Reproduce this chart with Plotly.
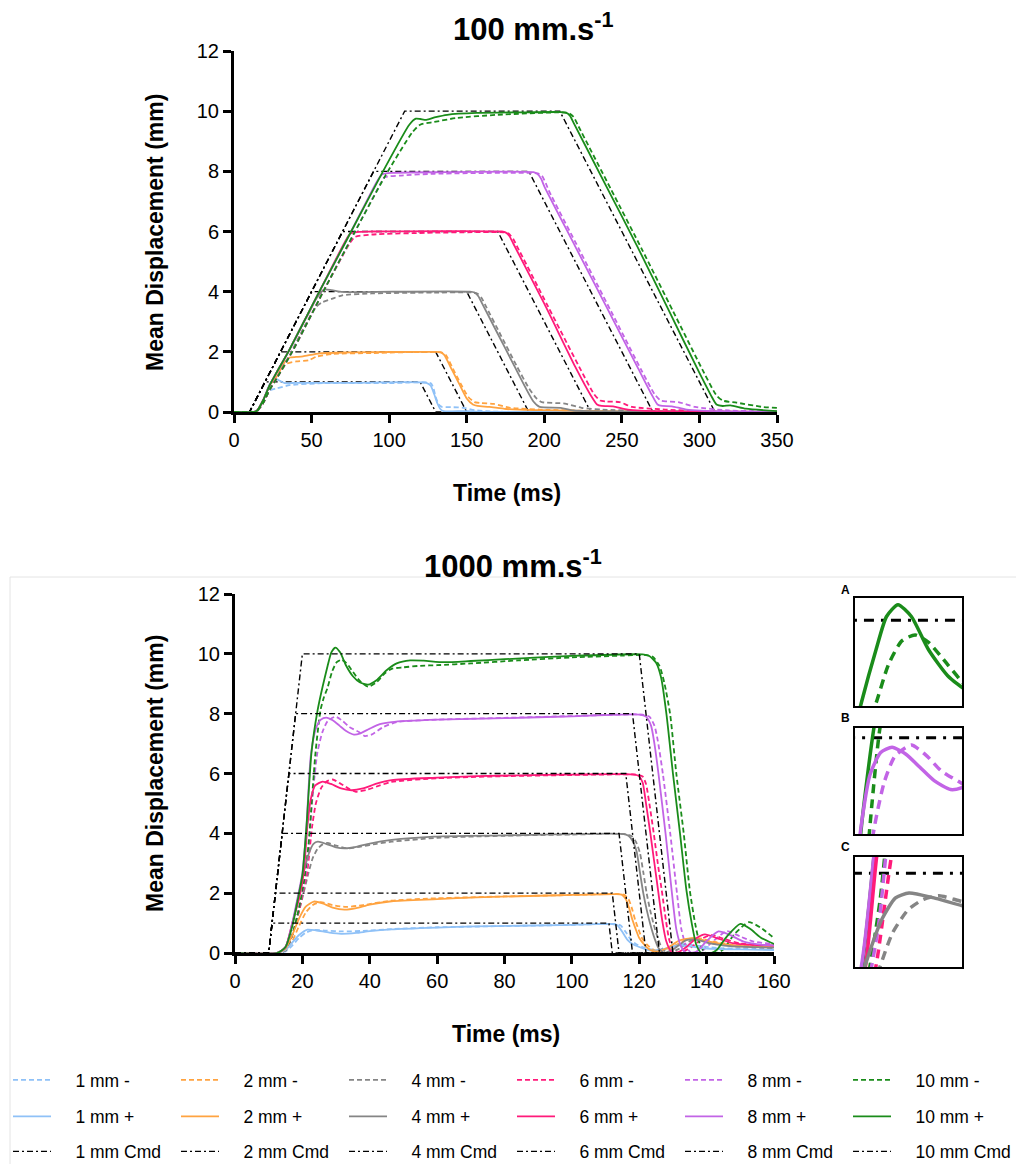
import plotly.graph_objects as go

# ---------------- DATA ----------------
LABELS = ["1 mm", "2 mm", "4 mm", "6 mm", "8 mm", "10 mm"]
COLORS = ["#8fc1f7", "#ffa340", "#858585", "#ff1a7a", "#c264e6", "#1a8c1a"]

# ---- 100 mm/s : command ----
top_cmd1_t = [0, 10, 20, 120, 130, 350]
top_cmd2_t = [0, 10, 30, 130, 150, 350]
top_cmd4_t = [0, 10, 50, 150, 190, 350]
top_cmd6_t = [0, 10, 70, 170, 230, 350]
top_cmd8_t = [0, 10, 90, 190, 270, 350]
top_cmd10_t = [0, 10, 110, 210, 310, 350]
top_cmd1_y = [0, 0, 1, 1, 0, 0]
top_cmd2_y = [0, 0, 2, 2, 0, 0]
top_cmd4_y = [0, 0, 4, 4, 0, 0]
top_cmd6_y = [0, 0, 6, 6, 0, 0]
top_cmd8_y = [0, 0, 8, 8, 0, 0]
top_cmd10_y = [0, 0, 10, 10, 0, 0]

# ---- 100 mm/s : measured (+ solid, - dashed) ----
top_p1_t = [0, 13, 15, 18.8, 23.1, 26.3, 28.4, 32.7, 40, 75, 124, 126.7, 129, 131, 133, 135, 140, 150, 160, 350]
top_p1_y = [0, 0, 0.05, 0.39, 0.94, 1.1, 1.07, 0.96, 0.97, 0.97, 0.97, 0.88, 0.6, 0.3, 0.1, 0.03, 0.02, 0.03, 0, 0]
top_m1_t = [0, 13, 15, 18.8, 23.1, 27.3, 35.9, 57.4, 100, 126.7, 128.5, 130, 132, 134, 140, 148, 155, 165, 180, 350]
top_m1_y = [0, 0, 0.04, 0.3, 0.72, 0.78, 0.89, 0.96, 0.96, 0.96, 0.8, 0.5, 0.25, 0.17, 0.16, 0.14, 0.06, 0.02, 0, 0]

top_p2_t = [0, 13, 15, 18.8, 23.1, 27.3, 32.7, 35.9, 40, 44.5, 55.3, 75, 129, 133, 135.5, 140, 145, 150, 154, 157, 164.6, 175.4, 197, 250, 350]
top_p2_y = [0, 0, 0.05, 0.39, 0.9, 1.16, 1.66, 1.81, 1.83, 1.85, 1.95, 1.98, 2.0, 1.99, 1.9, 1.45, 0.95, 0.45, 0.25, 0.2, 0.17, 0.1, 0.06, 0.02, 0]
top_m2_t = [0, 13, 15, 18.8, 23.1, 27.3, 30, 33.8, 40.2, 48.2, 53.1, 63.9, 88.8, 133.5, 136.5, 141, 146, 151, 155, 159, 167.3, 178, 197, 250, 350]
top_m2_y = [0, 0, 0.04, 0.3, 0.75, 1.1, 1.35, 1.6, 1.68, 1.72, 1.84, 1.93, 1.96, 1.98, 1.9, 1.45, 0.95, 0.5, 0.33, 0.3, 0.27, 0.14, 0.08, 0.02, 0]

top_p4_t = [0, 13, 15, 18.8, 23.1, 27.3, 35, 45, 48.8, 53.1, 58, 63, 70, 102, 152, 155, 157.5, 160, 170, 180, 188, 193, 197, 210.6, 218.7, 237.7, 350]
top_p4_y = [0, 0, 0.05, 0.39, 0.9, 1.3, 2.0, 3.0, 3.35, 3.77, 4.07, 4.05, 3.99, 4.0, 4.0, 3.97, 3.85, 3.6, 2.6, 1.6, 0.8, 0.35, 0.17, 0.14, 0.05, 0.02, 0]
top_m4_t = [0, 13, 15, 18.8, 23.1, 27.3, 36, 46, 53, 57, 63, 69.8, 88.8, 129, 154, 157, 159.5, 162, 172, 182, 190, 195, 198.4, 213.3, 224, 237.7, 264.7, 350]
top_m4_y = [0, 0, 0.04, 0.3, 0.75, 1.1, 1.9, 2.9, 3.5, 3.65, 3.76, 3.88, 3.94, 3.97, 3.97, 3.93, 3.8, 3.55, 2.55, 1.55, 0.8, 0.45, 0.33, 0.28, 0.14, 0.08, 0.03, 0]

top_p6_t = [0, 13, 15, 18.8, 23.1, 27.3, 35, 55, 72, 75, 80, 88.8, 172.7, 175, 177.5, 180, 200, 220, 230, 234, 237, 244.4, 253.9, 278, 350]
top_p6_y = [0, 0, 0.05, 0.39, 0.9, 1.3, 2.0, 4.0, 5.7, 5.93, 5.99, 6.0, 6.0, 5.97, 5.85, 5.6, 3.6, 1.5, 0.55, 0.25, 0.2, 0.19, 0.08, 0.02, 0]
top_m6_t = [0, 13, 15, 18.8, 23.1, 27.3, 37.5, 57.5, 74.5, 78, 88.8, 129, 174, 177, 180, 182.5, 202.5, 222.5, 232, 236, 240, 248.5, 256.6, 278, 300, 350]
top_m6_y = [0, 0, 0.04, 0.3, 0.75, 1.1, 2.0, 4.0, 5.6, 5.82, 5.9, 5.96, 5.97, 5.93, 5.75, 5.5, 3.5, 1.5, 0.6, 0.38, 0.35, 0.33, 0.17, 0.08, 0.03, 0]

top_p8_t = [0, 13, 15, 18.8, 23.1, 27.3, 35, 55, 75, 92, 95.6, 102.3, 129, 193, 195.5, 198, 200, 220, 240, 260, 269, 273, 276, 282.3, 291.8, 319, 350]
top_p8_y = [0, 0, 0.05, 0.39, 0.9, 1.3, 2.0, 4.0, 5.95, 7.65, 7.9, 7.95, 7.97, 7.97, 7.92, 7.75, 7.5, 5.5, 3.5, 1.5, 0.6, 0.25, 0.2, 0.19, 0.08, 0.02, 0.01]
top_m8_t = [0, 13, 15, 18.8, 23.1, 27.3, 37.5, 57.5, 77.5, 94, 97, 107.7, 129, 183.5, 195.7, 198.5, 201, 203, 223, 243, 263, 271, 275, 279, 286.4, 297.2, 319, 350]
top_m8_y = [0, 0, 0.04, 0.3, 0.75, 1.1, 2.0, 4.0, 5.95, 7.55, 7.8, 7.86, 7.92, 7.95, 7.93, 7.85, 7.6, 7.35, 5.35, 3.35, 1.35, 0.6, 0.38, 0.35, 0.33, 0.17, 0.05, 0.02]

top_p10_t = [0, 13, 15, 18.8, 23.1, 27.3, 35, 55, 75, 95, 113, 117.2, 120, 124, 130, 137.5, 156.5, 183.5, 210.6, 214, 216.5, 219, 240, 260, 280, 300, 308, 311, 315, 320, 330, 350]
top_p10_y = [0, 0, 0.05, 0.39, 0.9, 1.3, 2.0, 4.0, 5.95, 7.9, 9.55, 9.75, 9.74, 9.71, 9.8, 9.88, 9.94, 9.96, 9.97, 9.95, 9.85, 9.6, 7.5, 5.5, 3.4, 1.3, 0.5, 0.25, 0.2, 0.22, 0.11, 0.03]
top_m10_t = [0, 13, 15, 18.8, 23.1, 27.3, 37.5, 57.5, 77.5, 97.5, 115, 120, 129, 143, 170, 210.6, 216, 219, 222, 243, 263, 283, 303, 311, 315, 324, 340.5, 350]
top_m10_y = [0, 0, 0.04, 0.3, 0.75, 1.1, 2.0, 4.0, 5.95, 7.85, 9.3, 9.55, 9.64, 9.77, 9.88, 9.96, 9.93, 9.8, 9.5, 7.4, 5.4, 3.35, 1.3, 0.55, 0.38, 0.31, 0.17, 0.14]

# ---- 1000 mm/s : command ----
bot_cmd1_t = [0, 10, 11, 111, 112, 160]
bot_cmd2_t = [0, 10, 12, 112, 114, 160]
bot_cmd4_t = [0, 10, 14, 114, 118, 160]
bot_cmd6_t = [0, 10, 16, 116, 122, 160]
bot_cmd8_t = [0, 10, 18, 118, 126, 160]
bot_cmd10_t = [0, 10, 20, 120, 130, 160]

# ---- 1000 mm/s : measured ----
bot_p1_t = [0, 12.5, 15, 17, 19, 21.5, 24, 28, 31.5, 36, 40, 46.5, 60, 71.5, 96.5, 112, 113.5, 115, 116.5, 118, 120, 122, 124, 127, 131, 135, 140, 150, 160]
bot_p1_y = [0, 0, 0.1, 0.35, 0.6, 0.78, 0.76, 0.68, 0.64, 0.67, 0.73, 0.79, 0.85, 0.89, 0.93, 0.97, 0.93, 0.7, 0.44, 0.3, 0.2, 0.12, 0.08, 0.12, 0.25, 0.22, 0.15, 0.12, 0.1]
bot_m1_t = [0, 12.5, 15, 17, 19, 21, 23.5, 27, 32, 38, 46.5, 60, 80, 100, 113, 114.5, 116, 117.5, 119, 121, 123, 125, 128, 133, 137, 143, 150, 160]
bot_m1_y = [0, 0, 0.05, 0.25, 0.5, 0.68, 0.77, 0.75, 0.72, 0.74, 0.8, 0.86, 0.9, 0.94, 0.97, 0.92, 0.7, 0.45, 0.3, 0.2, 0.13, 0.1, 0.15, 0.3, 0.25, 0.17, 0.14, 0.13]

bot_p2_t = [0, 12.5, 15, 17, 19, 21, 23.4, 26, 29, 32.5, 36, 40, 46.5, 60, 71.5, 96.5, 113, 114.8, 116, 117, 118, 119, 120, 121.5, 123, 125, 128, 132, 136, 140, 146, 152, 160]
bot_p2_y = [0, 0, 0.15, 0.6, 1.15, 1.55, 1.72, 1.66, 1.52, 1.45, 1.5, 1.62, 1.73, 1.8, 1.86, 1.93, 1.97, 1.95, 1.8, 1.5, 1.1, 0.78, 0.5, 0.28, 0.12, 0.05, 0.15, 0.42, 0.5, 0.4, 0.28, 0.22, 0.2]
bot_m2_t = [0, 12.5, 15, 17, 19, 21, 23, 25.5, 29, 33, 38, 46.5, 60, 80, 100, 114, 115.5, 116.8, 117.8, 118.8, 119.8, 120.8, 122.3, 124, 126, 129, 134, 137.5, 142, 148, 160]
bot_m2_y = [0, 0, 0.08, 0.4, 0.9, 1.35, 1.6, 1.7, 1.6, 1.54, 1.6, 1.75, 1.83, 1.89, 1.94, 1.97, 1.95, 1.8, 1.5, 1.1, 0.78, 0.5, 0.28, 0.12, 0.06, 0.15, 0.45, 0.5, 0.38, 0.27, 0.21]

bot_p4_t = [0, 12.5, 15, 17, 19, 20.5, 22, 23.3, 24.6, 27, 30, 32.75, 36, 40, 46.5, 59, 84, 115, 116.8, 118, 119.2, 120.2, 121.2, 122.2, 123.3, 124.5, 125.8, 127.5, 130, 134, 137, 141, 147, 160]
bot_p4_y = [0, 0, 0.2, 0.95, 2.0, 2.75, 3.35, 3.65, 3.72, 3.65, 3.53, 3.5, 3.55, 3.66, 3.78, 3.89, 3.94, 3.98, 3.92, 3.75, 3.4, 2.7, 2.0, 1.45, 0.95, 0.5, 0.15, 0.0, 0.12, 0.43, 0.45, 0.32, 0.23, 0.18]
bot_m4_t = [0, 12.5, 15, 17, 19, 21, 21.8, 23, 24.5, 26, 27.5, 29.7, 33.4, 37, 42, 46.5, 60, 80, 100, 116, 117.8, 119, 120.2, 121.2, 122.2, 123.2, 124.3, 125.5, 126.8, 128.5, 131.5, 135.5, 138, 142, 148, 160]
bot_m4_y = [0, 0, 0.1, 0.6, 1.4, 2.3, 2.67, 3.15, 3.48, 3.63, 3.68, 3.6, 3.5, 3.55, 3.65, 3.72, 3.85, 3.92, 3.96, 3.97, 3.9, 3.72, 3.35, 2.7, 2.0, 1.45, 0.95, 0.5, 0.15, 0.0, 0.12, 0.42, 0.44, 0.32, 0.23, 0.17]

bot_p6_t = [0, 12.5, 15, 17, 19, 20.4, 21.5, 22.5, 23.8, 26, 28.5, 31.5, 34.6, 38, 42, 46.5, 60, 71.5, 96.5, 118, 119.8, 121, 122, 123.3, 124.5, 125.7, 126.8, 128, 129.5, 131, 134, 137, 139.5, 143, 148, 154, 160]
bot_p6_y = [0, 0, 0.2, 1.0, 1.8, 2.67, 4.25, 5.15, 5.6, 5.73, 5.65, 5.5, 5.44, 5.5, 5.66, 5.78, 5.86, 5.91, 5.96, 5.97, 5.92, 5.7, 5.0, 4.0, 3.0, 2.0, 1.1, 0.4, 0.05, 0.0, 0.2, 0.5, 0.62, 0.5, 0.32, 0.27, 0.25]
bot_m6_t = [0, 12.5, 15, 17, 19, 20.5, 21.4, 22.9, 24, 25.5, 27, 29, 31.5, 34, 35.9, 39, 43, 46.5, 60, 80, 100, 119, 121, 122, 123, 124.3, 125.5, 126.8, 127.9, 129, 130.5, 132, 135.5, 139, 141.5, 145, 150, 160]
bot_m6_y = [0, 0, 0.1, 0.6, 1.4, 2.2, 2.67, 4.23, 5.0, 5.5, 5.72, 5.8, 5.65, 5.48, 5.39, 5.45, 5.6, 5.72, 5.84, 5.91, 5.95, 5.96, 5.9, 5.65, 5.0, 4.0, 3.0, 2.0, 1.1, 0.4, 0.05, 0.0, 0.2, 0.5, 0.6, 0.48, 0.32, 0.24]

bot_p8_t = [0, 12.5, 15, 17, 18.5, 20, 21.2, 22.5, 24, 25.5, 27.1, 29, 31, 33, 35.3, 37, 40, 43, 46.5, 60, 80, 100, 120, 122, 123.5, 124.5, 125.7, 127.8, 129.7, 131, 132.5, 134, 137, 140, 143.5, 147, 151, 156, 160]
bot_p8_y = [0, 0, 0.2, 1.0, 1.8, 2.67, 4.23, 6.6, 7.5, 7.8, 7.87, 7.78, 7.6, 7.42, 7.3, 7.33, 7.5, 7.65, 7.72, 7.8, 7.85, 7.91, 7.97, 7.9, 7.6, 7.0, 6.0, 4.0, 2.0, 0.8, 0.2, 0.0, 0.05, 0.4, 0.72, 0.6, 0.38, 0.28, 0.25]
bot_m8_t = [0, 12.5, 15, 17, 19, 20.5, 21.7, 23, 24.45, 26, 27.5, 29.8, 32, 34, 36.9, 38.5, 40.5, 44, 48, 60, 80, 100, 121, 123, 124.5, 125.5, 127, 129.2, 131.2, 132.5, 134, 135.5, 138, 142, 146, 150, 154, 160]
bot_m8_y = [0, 0, 0.1, 0.6, 1.5, 2.3, 3.3, 5.2, 6.7, 7.4, 7.75, 7.9, 7.75, 7.55, 7.38, 7.25, 7.3, 7.55, 7.72, 7.8, 7.86, 7.92, 7.97, 7.9, 7.6, 7.1, 6.0, 4.0, 2.0, 0.8, 0.2, 0.0, 0.02, 0.4, 0.73, 0.55, 0.38, 0.3]

bot_p10_t = [0, 12.5, 15, 17, 18.5, 20, 21.2, 22.7, 24.5, 26, 27.5, 28.6, 29.8, 31.2, 33, 35, 37, 39.5, 42, 45, 48, 52, 56, 62, 70, 80, 100, 121, 123, 125, 126.5, 128.1, 130, 132.1, 134, 135.6, 137, 138.5, 141, 143, 146, 150, 153, 156, 160]
bot_p10_y = [0, 0, 0.2, 0.9, 1.7, 2.6, 4.2, 6.7, 8.1, 8.9, 9.6, 10.05, 10.21, 10.05, 9.6, 9.25, 9.05, 8.97, 9.12, 9.45, 9.68, 9.78, 9.77, 9.72, 9.76, 9.82, 9.93, 9.98, 9.93, 9.7, 9.2, 7.96, 6.0, 4.0, 2.1, 0.98, 0.25, 0.0, -0.02, 0.1, 0.55, 0.97, 0.8, 0.52, 0.3]
bot_m10_t = [0, 12.5, 15, 17, 19, 20.5, 21.8, 23.9, 25.4, 26.4, 27.4, 28.8, 30.2, 31.6, 33, 35, 37, 39.5, 42, 44.5, 46.5, 50, 55, 60, 70, 84, 100, 115, 122, 124, 126, 127.5, 129.2, 131, 133.2, 135, 136.6, 138, 139.5, 143, 145, 148, 152.5, 156, 160]
bot_m10_y = [0, 0, 0.1, 0.6, 1.5, 2.4, 3.6, 6.7, 8.13, 8.55, 8.84, 9.4, 9.72, 9.8, 9.7, 9.4, 9.1, 8.9, 9.05, 9.35, 9.5, 9.55, 9.6, 9.62, 9.68, 9.78, 9.88, 9.94, 9.96, 9.9, 9.6, 9.0, 7.96, 6.0, 4.0, 2.1, 0.98, 0.3, 0.02, 0.0, 0.12, 0.6, 1.03, 0.85, 0.5]

# inset windows (time ms, displacement mm)
INSET_A_X = [25.3, 36.5]
INSET_A_Y = [8.84, 10.30]
INSET_B_X = [21.9, 36.9]
INSET_B_Y = [6.7, 8.13]
INSET_C_X = [19.4, 29.7]
INSET_C_Y = [2.67, 4.23]

# ---------------- FIGURE ----------------
# the page adds an 8 px body margin, so the figure is 8 px smaller and all
# positions below (screen pixels of the reference) are shifted by it
OFF = 8
W, H = 1024 - OFF, 1164 - OFF
SANS = "Liberation Sans, Arial, sans-serif"
DASH = "5px,3px"
CMD_DASH = "6px,3px,2px,3px"
PAD = "\u00a0\u00a0\u00a0\u00a0"


def px_x(p):
    return (p - OFF) / W


def px_y(p):
    return (H - (p - OFF)) / H


top_cmd = [(top_cmd1_t, top_cmd1_y), (top_cmd2_t, top_cmd2_y), (top_cmd4_t, top_cmd4_y),
           (top_cmd6_t, top_cmd6_y), (top_cmd8_t, top_cmd8_y), (top_cmd10_t, top_cmd10_y)]
top_pos = [(top_p1_t, top_p1_y), (top_p2_t, top_p2_y), (top_p4_t, top_p4_y),
           (top_p6_t, top_p6_y), (top_p8_t, top_p8_y), (top_p10_t, top_p10_y)]
top_neg = [(top_m1_t, top_m1_y), (top_m2_t, top_m2_y), (top_m4_t, top_m4_y),
           (top_m6_t, top_m6_y), (top_m8_t, top_m8_y), (top_m10_t, top_m10_y)]
bot_cmd = [(bot_cmd1_t, top_cmd1_y), (bot_cmd2_t, top_cmd2_y), (bot_cmd4_t, top_cmd4_y),
           (bot_cmd6_t, top_cmd6_y), (bot_cmd8_t, top_cmd8_y), (bot_cmd10_t, top_cmd10_y)]
bot_pos = [(bot_p1_t, bot_p1_y), (bot_p2_t, bot_p2_y), (bot_p4_t, bot_p4_y),
           (bot_p6_t, bot_p6_y), (bot_p8_t, bot_p8_y), (bot_p10_t, bot_p10_y)]
bot_neg = [(bot_m1_t, bot_m1_y), (bot_m2_t, bot_m2_y), (bot_m4_t, bot_m4_y),
           (bot_m6_t, bot_m6_y), (bot_m8_t, bot_m8_y), (bot_m10_t, bot_m10_y)]

fig = go.Figure()


def line(t, y, color, dash, width, xa, ya, name=None, legend=None, spline=True):
    fig.add_trace(go.Scatter(
        x=t, y=y, mode="lines", xaxis=xa, yaxis=ya,
        line=dict(color=color, dash=dash, width=width,
                  shape="spline" if spline else "linear", smoothing=0.6),
        name=name if name else "", showlegend=legend is not None,
        legend=legend if legend else "legend", hoverinfo="skip"))


# top chart
for i in range(6):
    line(*top_cmd[i], "black", CMD_DASH, 1.4, "x", "y", spline=False)
for i in range(6):
    line(*top_neg[i], COLORS[i], DASH, 1.8, "x", "y")
    line(*top_pos[i], COLORS[i], "solid", 1.8, "x", "y")

# bottom chart (carries the legends)
for i in range(6):
    line(*bot_neg[i], COLORS[i], DASH, 1.8, "x2", "y2", name=PAD + LABELS[i] + " -", legend="legend")
for i in range(6):
    line(*bot_pos[i], COLORS[i], "solid", 1.8, "x2", "y2", name=PAD + LABELS[i] + " +", legend="legend2")
for i in range(6):
    line(*bot_cmd[i], "black", CMD_DASH, 1.4, "x2", "y2", name=PAD + LABELS[i] + " Cmd",
         legend="legend3", spline=False)

# insets
IN_DASH = "9px,6px"
IN_CMD = "3px,7px,10px,7px"
# A : 10 mm
line(*bot_cmd[5], "black", IN_CMD, 3, "x3", "y3", spline=False)
line(*bot_neg[5], COLORS[5], IN_DASH, 3.5, "x3", "y3")
line(*bot_pos[5], COLORS[5], "solid", 3.5, "x3", "y3")
# B : 8 mm (+10 mm)
line(*bot_cmd[4], "black", IN_CMD, 3, "x4", "y4", spline=False)
for i in (5, 4):
    line(*bot_neg[i], COLORS[i], IN_DASH, 3.5, "x4", "y4")
    line(*bot_pos[i], COLORS[i], "solid", 3.5, "x4", "y4")
# C : 4 mm (+ larger)
line(*bot_cmd[2], "black", IN_CMD, 3, "x5", "y5", spline=False)
for i in (5, 4, 3, 2):
    line(*bot_neg[i], COLORS[i], IN_DASH, 3.5, "x5", "y5")
    line(*bot_pos[i], COLORS[i], "solid", 3.5, "x5", "y5")

tickfont = dict(family=SANS, size=20, color="black")
axis_common = dict(showline=True, linewidth=3, linecolor="black", ticks="outside",
                   ticklen=8, tickwidth=3, tickcolor="black", showgrid=False,
                   zeroline=False, tickfont=tickfont, layer="below traces")
inset_common = dict(showline=True, mirror=True, linewidth=2, linecolor="black",
                    ticks="", showticklabels=False, showgrid=False, zeroline=False)

fig.update_layout(
    width=W, height=H, autosize=False,
    margin=dict(l=0, r=0, t=0, b=0, autoexpand=False),
    paper_bgcolor="white", plot_bgcolor="rgba(0,0,0,0)",
    xaxis=dict(domain=[px_x(234), px_x(777)], range=[0, 350], tickvals=list(range(0, 351, 50)),
               anchor="y", **axis_common),
    yaxis=dict(domain=[px_y(412), px_y(51)], range=[0, 12], tickvals=list(range(0, 13, 2)),
               anchor="x", **axis_common),
    xaxis2=dict(domain=[px_x(235), px_x(774)], range=[0, 160], tickvals=list(range(0, 161, 20)),
                anchor="y2", **axis_common),
    yaxis2=dict(domain=[px_y(953), px_y(594)], range=[0, 12], tickvals=list(range(0, 13, 2)),
                anchor="x2", **axis_common),
    xaxis3=dict(domain=[px_x(855), px_x(962)], range=INSET_A_X, anchor="y3", **inset_common),
    yaxis3=dict(domain=[px_y(706), px_y(598)], range=INSET_A_Y, anchor="x3", **inset_common),
    xaxis4=dict(domain=[px_x(855), px_x(962)], range=INSET_B_X, anchor="y4", **inset_common),
    yaxis4=dict(domain=[px_y(834), px_y(728)], range=INSET_B_Y, anchor="x4", **inset_common),
    xaxis5=dict(domain=[px_x(855), px_x(962)], range=INSET_C_X, anchor="y5", **inset_common),
    yaxis5=dict(domain=[px_y(967), px_y(857)], range=INSET_C_Y, anchor="x5", **inset_common),
)

legend_common = dict(orientation="h", xanchor="left", yanchor="middle", x=0,
                     entrywidth=115, entrywidthmode="pixels", itemwidth=38,
                     traceorder="normal", bgcolor="rgba(0,0,0,0)",
                     font=dict(family=SANS, size=17.5, color="black"))
fig.update_layout(legend=dict(y=px_y(1080), **legend_common),
                  legend2=dict(y=px_y(1116.5), **legend_common),
                  legend3=dict(y=px_y(1151.5), **legend_common))

ann = []
title_font = dict(family=SANS, size=31, color="black")
ann.append(dict(text="<b>100 mm.s<sup>-1</sup></b>", x=px_x(533), y=px_y(27), font=title_font))
ann.append(dict(text="<b>1000 mm.s<sup>-1</sup></b>", x=px_x(513), y=px_y(564), font=title_font))
lab_font = dict(family=SANS, size=23, color="black")
ann.append(dict(text="<b>Mean Displacement (mm)</b>", x=px_x(155), y=px_y(233), textangle=-90, font=lab_font))
ann.append(dict(text="<b>Mean Displacement (mm)</b>", x=px_x(155), y=px_y(774), textangle=-90, font=lab_font))
ann.append(dict(text="<b>Time (ms)</b>", x=px_x(507), y=px_y(493), font=lab_font))
ann.append(dict(text="<b>Time (ms)</b>", x=px_x(506), y=px_y(1034), font=lab_font))
small = dict(family=SANS, size=12, color="black")
for lab, yy in (("A", 590), ("B", 718), ("C", 847)):
    ann.append(dict(text="<b>%s</b>" % lab, x=px_x(845), y=px_y(yy), font=small))
for a in ann:
    a.update(xref="paper", yref="paper", showarrow=False, xanchor="center", yanchor="middle")
fig.update_layout(annotations=ann)

fig.update_layout(shapes=[
    dict(type="line", xref="paper", yref="paper", x0=px_x(10), x1=1, y0=px_y(577), y1=px_y(577),
         line=dict(color="#e4e4e4", width=1)),
    dict(type="line", xref="paper", yref="paper", x0=px_x(10), x1=px_x(10), y0=px_y(577), y1=0,
         line=dict(color="#e4e4e4", width=1)),
])

fig.write_html("out.html")
